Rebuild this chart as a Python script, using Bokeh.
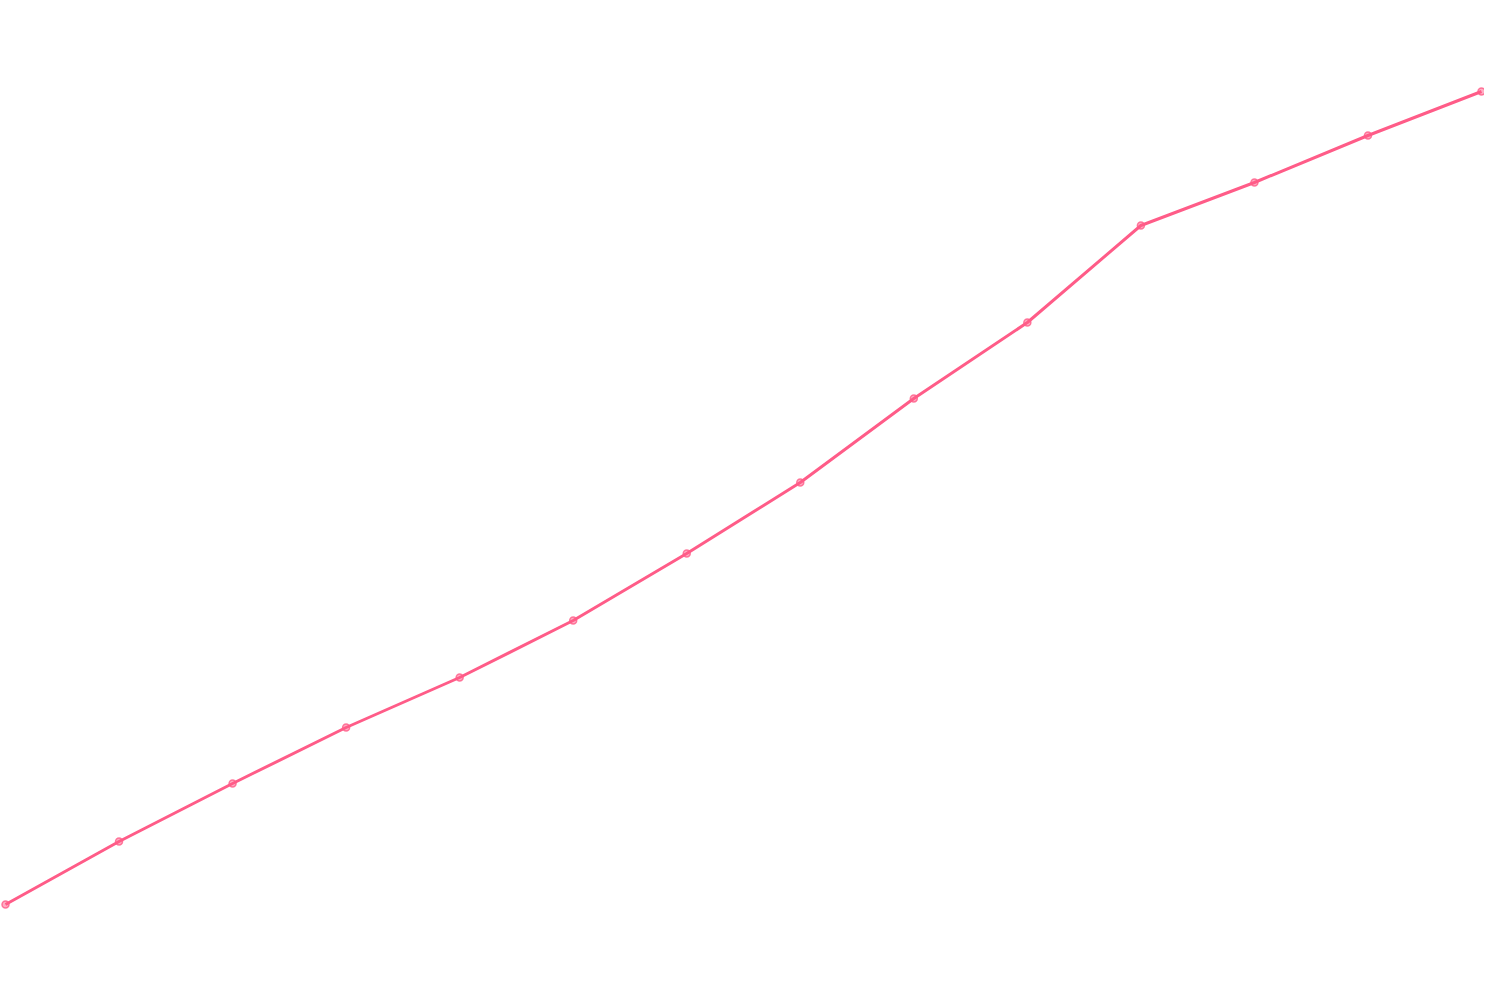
from bokeh.plotting import figure
from bokeh.models import Range1d
from bokeh.embed import file_html
from bokeh.resources import INLINE

# Data (arbitrary units, higher = up)
labels = list(range(14))
values = [96, 159, 217, 273, 323, 380, 447, 518, 602, 678, 775, 818, 865, 909]

line_color = "#ff5c88"

scale = 1476 / 13.0
x_start = -5 / scale
x_end = x_start + 1484 / scale

p = figure(width=1484, height=984, output_backend="svg", toolbar_location=None,
           x_range=Range1d(x_start, x_end), y_range=Range1d(16, 1000),
           min_border=0, min_border_left=0, min_border_right=0,
           min_border_top=0, min_border_bottom=0)
p.axis.visible = False
p.grid.visible = False
p.outline_line_color = None
p.background_fill_color = "white"
p.border_fill_color = "white"

p.line(labels, values, line_color=line_color, line_width=3)
p.scatter(labels, values, size=7, fill_color=line_color, fill_alpha=0.5,
          line_color=line_color, line_width=1.5, line_alpha=0.8)

open("out.html", "w").write(file_html(p, INLINE))
